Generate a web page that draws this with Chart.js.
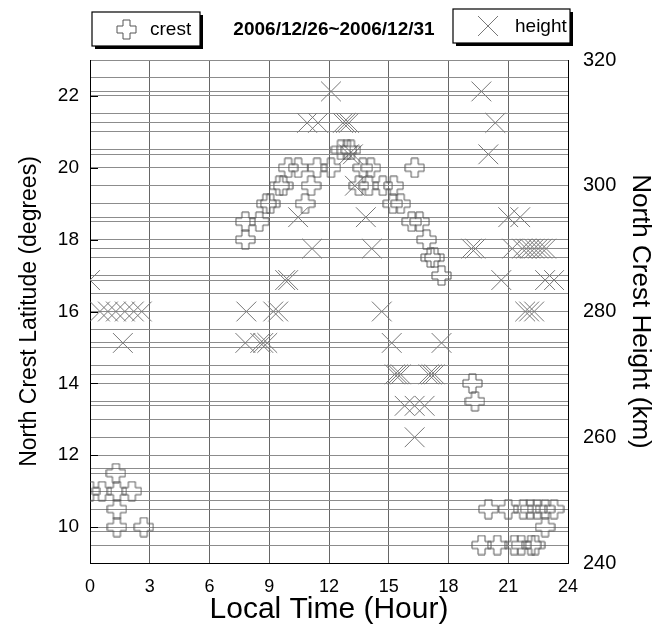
<!DOCTYPE html>
<html>
<head>
<meta charset="utf-8">
<script src="https://cdn.jsdelivr.net/npm/chart.js@4.4.0/dist/chart.umd.min.js"></script>
<style>
  html, body { margin: 0; padding: 0; background: #fff; }
</style>
</head>
<body>
<canvas id="chart" width="658" height="626"></canvas>
<script>
// crest latitude (deg) vs local time (hour)
const crestHour = [0, 0.6, 1.3, 1.35, 2.1, 1.35, 1.35, 2.7,
  7.8, 7.8, 8.5, 8.85, 9.05, 9.5, 9.7, 9.95, 10.45, 10.8, 11.1, 11.4,
  12.1, 12.6, 12.9, 13.1, 13.5, 13.7, 14.0, 14.1, 14.7, 15.25, 15.2, 15.6, 16.3, 16.15, 16.55, 16.9, 17.1, 17.3, 17.65,
  19.2, 19.33,
  20.0, 21.0, 21.75, 22.1, 22.45, 22.85, 23.3, 22.85,
  19.66, 20.45, 21.3, 21.65, 22.15, 22.35];
const crestLat = [11, 11, 11.5, 11, 11, 10.5, 10, 10,
  18.5, 18, 18.5, 19, 19, 19.5, 19.5, 20, 20, 19, 19.5, 20,
  20, 20.5, 20.5, 20.5, 19.5, 20, 19.5, 20, 19.5, 19.5, 19, 19, 20, 18.5, 18.5, 18, 17.5, 17.5, 17,
  14, 13.5,
  10.5, 10.5, 10.5, 10.5, 10.5, 10.5, 10.5, 10,
  9.5, 9.5, 9.5, 9.5, 9.5, 9.5];

// crest height (km) vs local time (hour)
const heightHour = [0, 0.5, 0.9, 1.3, 1.75, 2.2, 2.6, 1.65,
  7.8, 7.85, 8.55, 8.7, 8.9, 9.2, 9.45, 9.8, 9.95, 10.45, 10.9, 11.15, 11.45,
  12.1, 12.7, 12.85, 13.0, 13.0, 13.2, 13.3, 13.85, 14.15, 14.65, 15.15, 15.3, 15.45, 15.6,
  15.8, 16.3, 16.8, 16.3, 17.0, 17.15, 17.3, 17.65,
  19.15, 19.35, 19.65, 20.0, 20.35, 20.65, 21.0, 21.6, 21.2,
  21.7, 21.9, 22.1, 22.3, 22.5, 22.7, 22.9, 21.85, 22.05, 22.3, 22.85, 23.3];
const heightKm = [285, 280, 280, 280, 280, 280, 280, 275,
  275, 280, 275, 275, 275, 280, 280, 285, 285, 295, 310, 290, 310,
  315, 310, 310, 310, 305, 305, 300, 295, 290, 280, 275, 270, 270, 270,
  265, 265, 265, 260, 270, 270, 270, 275,
  290, 290, 315, 305, 310, 285, 295, 295, 290,
  290, 290, 290, 290, 290, 290, 290, 280, 280, 280, 285, 285];

const hourTicks = [0, 3, 6, 9, 12, 15, 18, 21, 24];
const latLabels = [10, 12, 14, 16, 18, 20, 22];
const kmLabels = [240, 260, 280, 300, 320];
const dateRange = '2006/12/26~2006/12/31';

const FONT = "'Liberation Sans Narrow', 'Liberation Sans', Arial, sans-serif";

function plusImage(size, arm, color) {
  const c = document.createElement('canvas');
  c.width = size; c.height = size;
  const g = c.getContext('2d');
  const m = size / 2, a = arm / 2, L = size / 2 - 1;
  g.strokeStyle = color;
  g.lineWidth = 1;
  g.beginPath();
  g.moveTo(m - a, m - L); g.lineTo(m + a, m - L); g.lineTo(m + a, m - a);
  g.lineTo(m + L, m - a); g.lineTo(m + L, m + a); g.lineTo(m + a, m + a);
  g.lineTo(m + a, m + L); g.lineTo(m - a, m + L); g.lineTo(m - a, m + a);
  g.lineTo(m - L, m + a); g.lineTo(m - L, m - a); g.lineTo(m - a, m - a);
  g.closePath();
  g.stroke();
  return c;
}
const plus = plusImage(21, 7, '#555');

function toPoints(xs, ys) {
  return xs.map((x, i) => ({x: x, y: ys[i]}));
}

function drawBox(ctx, x, y, w, h) {
  ctx.fillStyle = '#000';
  ctx.fillRect(x + 3, y + 3, w, h);
  ctx.fillStyle = '#fff';
  ctx.fillRect(x, y, w, h);
  ctx.strokeStyle = '#000';
  ctx.lineWidth = 1.2;
  ctx.strokeRect(x, y, w, h);
}

const headerPlugin = {
  id: 'header',
  afterDraw(chart) {
    const ctx = chart.ctx;
    ctx.save();
    drawBox(ctx, 92, 12, 108, 34);
    ctx.drawImage(plus, 116, 19);
    ctx.fillStyle = '#000';
    ctx.font = '19px ' + FONT;
    ctx.textBaseline = 'middle';
    ctx.textAlign = 'left';
    ctx.fillText('crest', 150, 30);

    ctx.font = 'bold 19px ' + FONT;
    ctx.textAlign = 'center';
    ctx.fillText(dateRange, 334, 30);

    drawBox(ctx, 453, 9, 117, 34);
    ctx.strokeStyle = '#777';
    ctx.lineWidth = 1;
    ctx.beginPath();
    ctx.moveTo(478, 16); ctx.lineTo(498, 36);
    ctx.moveTo(498, 16); ctx.lineTo(478, 36);
    ctx.stroke();
    ctx.fillStyle = '#000';
    ctx.font = '19px ' + FONT;
    ctx.textAlign = 'left';
    ctx.fillText('height', 515, 27);

    // short inward tick marks on the left axis
    const y = chart.scales.y, left = chart.chartArea.left;
    ctx.strokeStyle = '#000';
    ctx.beginPath();
    latLabels.forEach(v => {
      const py = Math.round(y.getPixelForValue(v)) + 0.5;
      ctx.moveTo(left, py); ctx.lineTo(left + 8, py);
    });
    ctx.stroke();
    ctx.restore();
  }
};

new Chart(document.getElementById('chart').getContext('2d'), {
  type: 'scatter',
  data: {
    datasets: [{
      label: 'crest',
      data: toPoints(crestHour, crestLat),
      yAxisID: 'y',
      pointStyle: plus,
      radius: 10,
      borderColor: '#555',
      backgroundColor: 'rgba(0,0,0,0)'
    }, {
      label: 'height',
      data: toPoints(heightHour, heightKm),
      yAxisID: 'y2',
      pointStyle: 'crossRot',
      radius: 14,
      borderWidth: 1,
      borderColor: '#777',
      backgroundColor: 'rgba(0,0,0,0)'
    }]
  },
  options: {
    responsive: false,
    animation: false,
    layout: {padding: {top: 60, left: 0, right: 0, bottom: 0}},
    plugins: {legend: {display: false}, tooltip: {enabled: false}},
    scales: {
      x: {
        type: 'linear', min: 0, max: 24,
        afterFit: s => { s.height = 63; },
        afterBuildTicks: s => { s.ticks = hourTicks.map(v => ({value: v})); },
        ticks: {color: '#000', padding: 13, font: {family: FONT, size: 18}, autoSkip: false, maxRotation: 0},
        grid: {color: '#666', drawTicks: false},
        border: {color: '#000', width: 1},
        title: {display: true, text: 'Local Time (Hour)', color: '#000',
          font: {family: FONT, size: 30, lineHeight: 1}, padding: {top: 0, bottom: 1}}
      },
      y: {
        type: 'linear', position: 'left', min: 9, max: 23,
        afterFit: s => { s.width = 90; },
        ticks: {stepSize: 0.5, autoSkip: false, color: '#000', padding: 11,
          font: {family: FONT, size: 19},
          callback: v => latLabels.includes(v) ? String(v) : ''},
        grid: {color: '#8c8c8c', drawTicks: false},
        border: {color: '#000', width: 1},
        title: {display: true, text: 'North Crest Latitude (degrees)', color: '#000',
          font: {family: FONT, size: 23, lineHeight: 1}, padding: {top: 18, bottom: 0}}
      },
      y2: {
        type: 'linear', position: 'right', min: 240, max: 320,
        afterFit: s => { s.width = 90; },
        ticks: {stepSize: 5, autoSkip: false, color: '#000', padding: 15,
          font: {family: FONT, size: 20},
          callback: v => kmLabels.includes(v) ? String(v) : ''},
        grid: {color: '#8c8c8c', drawTicks: false},
        border: {color: '#000', width: 1},
        title: {display: true, text: 'North Crest Height (km)', color: '#000',
          font: {family: FONT, size: 26, lineHeight: 1}, padding: {top: 5, bottom: 0}}
      }
    }
  },
  plugins: [headerPlugin]
});
</script>
</body>
</html>
